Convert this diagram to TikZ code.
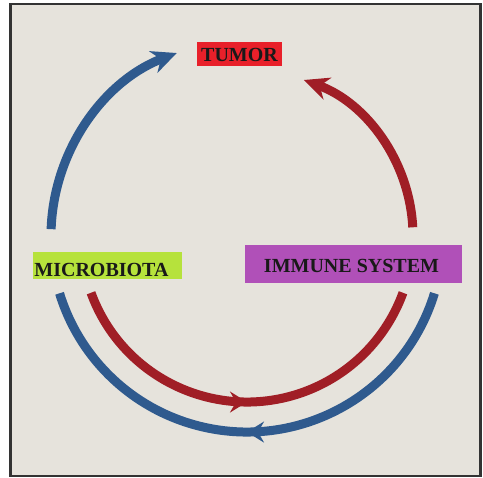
\documentclass[tikz,border=0pt]{standalone}
\usepackage{fontspec}
\setmainfont{Liberation Serif}
\usetikzlibrary{arrows.meta,decorations.markings}
\definecolor{bg}{RGB}{230,227,220}
\definecolor{arcblue}{RGB}{47,90,142}
\definecolor{arcred}{RGB}{160,30,38}
\definecolor{tumred}{RGB}{232,32,42}
\definecolor{microgreen}{RGB}{182,226,60}
\definecolor{immpurple}{RGB}{176,80,184}
\begin{document}
\begin{tikzpicture}[x=1pt,y=-1pt,
  flow/.style={line width=9pt},
  endtip/.style={-{Stealth[length=25pt,width=23pt,inset=8pt]}},
  midtip/.style={postaction={decorate},decoration={markings,
     mark=at position 0.5 with {\arrow{Stealth[length=17pt,width=21pt,inset=6pt]}}}},
  labelbox/.style={inner sep=0pt, draw=none},
  lbl/.style={inner sep=0pt, font=\fontsize{20}{24}\selectfont\bfseries, text=black!90}]
\useasboundingbox (0,0) rectangle (483,478);
\fill[white] (0,0) rectangle (483,478);
\draw[line width=2.5pt, draw=black!80, fill=bg] (10.5,4) rectangle (480.5,476);

\coordinate (c) at (247,236);

% boxes
\node[labelbox, fill=tumred, minimum width=85pt, minimum height=24pt] (tumorbox) at (239,54) {};
\node[lbl] (tumor) at (239.5,55) {TUMOR};
\node[labelbox, fill=microgreen, minimum width=149pt, minimum height=27pt] (microbox) at (107.5,265.5) {};
\node[lbl] (micro) at (101.5,269.5) {MICROBIOTA};
\node[labelbox, fill=immpurple, minimum width=217pt, minimum height=38pt] (immbox) at (353.5,264) {};
\node[lbl] (immune) at (351.5,266) {IMMUNE SYSTEM};

% arcs
\draw[flow, arcblue, endtip] ([shift={(182:196)}]c) arc[start angle=182, end angle=249, radius=196];
\draw[flow, arcred, endtip] ([shift={(-3:166)}]c) arc[start angle=-3, end angle=-70, radius=166];
\draw[flow, arcred, midtip] ([shift={(160:166)}]c) arc[start angle=160, end angle=20, radius=166];
\draw[flow, arcblue, midtip] ([shift={(17:196)}]c) arc[start angle=17, end angle=163, radius=196];
\end{tikzpicture}
\end{document}
